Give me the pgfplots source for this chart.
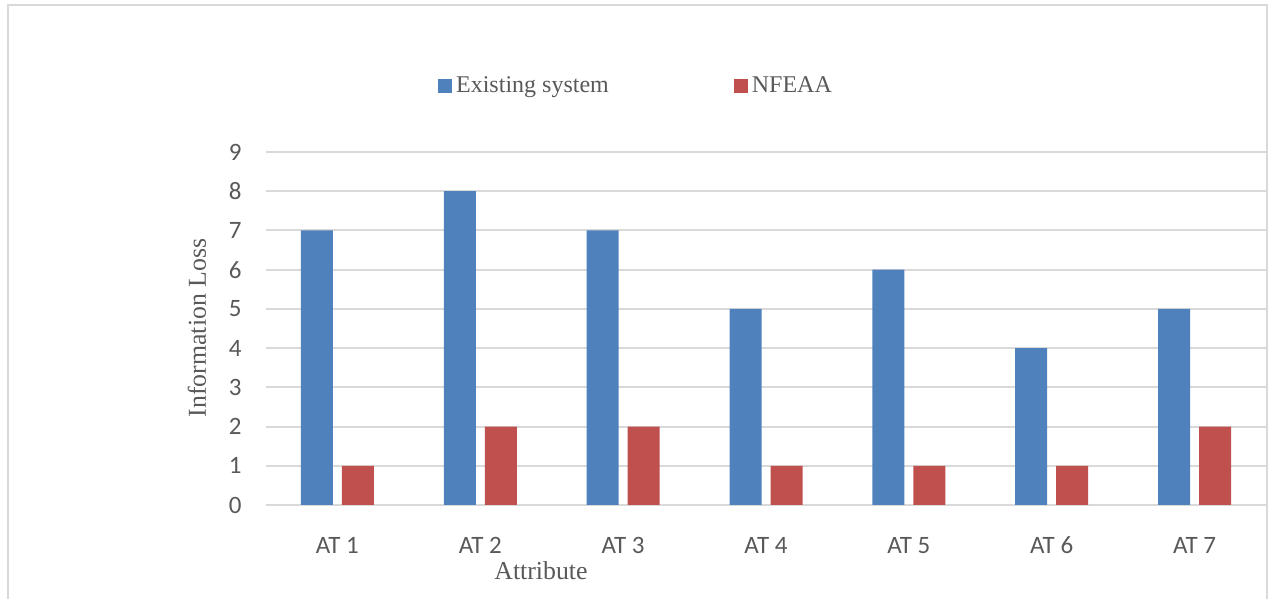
\documentclass[border=0pt]{standalone}
\usepackage{pgfplots}
\pgfplotsset{compat=1.18}
\usepackage{fontspec}
\setmainfont{Carlito}
\newfontfamily\tnr{Liberation Serif}
\definecolor{exblue}{HTML}{4F81BD}
\definecolor{nfred}{HTML}{C0504D}
\definecolor{gridgray}{HTML}{D9D9D9}
\definecolor{txtgray}{HTML}{595959}
\begin{document}
\begin{tikzpicture}
\useasboundingbox (-133pt,-47pt) rectangle (501pt,252.5pt);
\draw[gridgray, line width=1pt] (-129pt,-48pt) -- (-129pt,250pt) -- (500.5pt,250pt) -- (500.5pt,-48pt);
\begin{axis}[
  at={(0pt,0pt)}, anchor=south west,
  scale only axis,
  width=500pt, height=176.5pt,
  xmin=-0.5, xmax=6.5, ymin=0, ymax=9,
  ybar=4.5pt, bar width=16pt,
  xtick=data,
  xticklabels={AT 1,AT 2,AT 3,AT 4,AT 5,AT 6,AT 7},
  ytick={0,1,...,9},
  major tick length=0pt,
  axis line style={draw=none},
  ymajorgrids, grid style={gridgray, line width=1pt},
  /pgf/number format/assume math mode=true,
  tick label style={font=\fontsize{12.5pt}{14pt}\selectfont, text=txtgray},
  yticklabel style={anchor=east, inner sep=0pt, xshift=-12pt},
  xticklabel style={anchor=base, inner sep=0pt, yshift=-24pt},
  legend style={at={(0.371,1.187)}, anchor=center, draw=none, fill=none,
    font=\tnr\fontsize{12pt}{14pt}\selectfont, text=txtgray,
    legend columns=2, nodes={inner sep=2pt},
    /tikz/every even column/.append style={column sep=60.5pt}},
  legend image code/.code={\fill[#1, draw=none] (0pt,-3.5pt) rectangle (7pt,3.5pt);},
]
\addplot[fill=exblue, draw=none] coordinates {(0,7) (1,8) (2,7) (3,5) (4,6) (5,4) (6,5)};
\addplot[fill=nfred, draw=none] coordinates {(0,1) (1,2) (2,2) (3,1) (4,1) (5,1) (6,2)};
\legend{Existing system, NFEAA}
\end{axis}
\node[font=\tnr\fontsize{12.9pt}{15pt}\selectfont, text=txtgray] at (137.5pt,-33pt) {Attribute};
\node[font=\tnr\fontsize{12.9pt}{15pt}\selectfont, text=txtgray, rotate=90] at (-34.5pt,88.5pt) {Information Loss};
\end{tikzpicture}
\end{document}
